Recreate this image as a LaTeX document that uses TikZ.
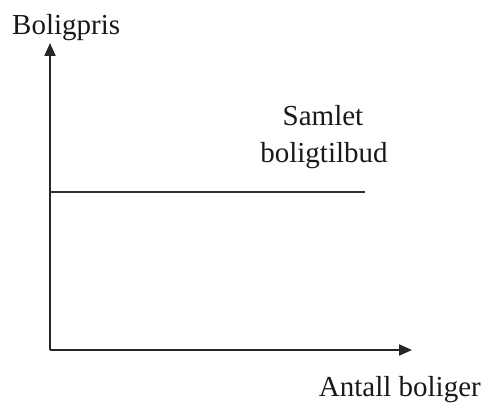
\documentclass[tikz,border=0pt]{standalone}
\usepackage{fontspec}
\setmainfont{Liberation Serif}
\usetikzlibrary{arrows.meta}
\begin{document}
\begin{tikzpicture}[x=1pt,y=-1pt,
  axis/.style={line width=2pt,draw=black!85,-{Triangle[length=13pt,width=11pt]}},
  curve/.style={line width=1.8pt,draw=black!80},
  lbl/.style={font=\fontsize{29}{36}\selectfont,inner sep=0pt,text=black!90}]
\useasboundingbox (0,0) rectangle (485,406);
% axes
\coordinate (origin) at (50,350);
\coordinate (ytip) at (50,43);
\coordinate (xtip) at (412,350);
\draw[axis] (origin) -- (ytip);
\draw[axis] (origin) -- (xtip);
% horizontal supply line
\coordinate (s0) at (50,192);
\coordinate (s1) at (365,192);
\draw[curve] (s0) -- (s1);
% labels
\node[lbl,anchor=base west] (ylabel) at (12,35) {Boligpris};
\node[lbl,anchor=base] (sup1) at (323,126) {Samlet};
\node[lbl,anchor=base] (sup2) at (324,163) {boligtilbud};
\node[lbl,anchor=base east] (xlabel) at (481,396) {Antall boliger};
\end{tikzpicture}
\end{document}
